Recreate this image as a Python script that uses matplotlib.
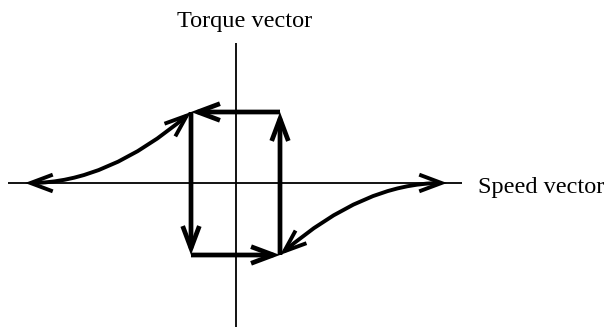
import matplotlib
matplotlib.use("Agg")
import matplotlib.pyplot as plt
from matplotlib.patches import FancyArrowPatch
from matplotlib.path import Path

plt.rcParams["font.family"] = ["Liberation Serif", "DejaVu Serif"]

# diagram coordinates, origin where the two axes cross
speed_axis_x = [-228, 226]
torque_axis_y = [-144, 140]

# rectangle corners of the torque/speed cycle
rect_x = [-45, 44]
rect_y = [-72, 71]

# curve tips on the speed axis
left_tip = (-211, 0)
right_tip = (211, 0)

axis_labels = ["Torque vector", "Speed vector"]

fig = plt.figure(figsize=(6.08, 3.27), dpi=100)
ax = fig.add_axes([0, 0, 1, 1])
ax.set_xlim(-236, 372)
ax.set_ylim(-144, 183)
ax.axis("off")

# axes
ax.plot(speed_axis_x, [0, 0], color="black", lw=1.3, solid_capstyle="butt")
ax.plot([0, 0], torque_axis_y, color="black", lw=1.3, solid_capstyle="butt")

x0, x1 = rect_x
y0, y1 = rect_y
arrow_kw = dict(arrowstyle="->,head_length=0.8,head_width=0.3",
                mutation_scale=20, color="black", shrinkA=0, shrinkB=0,
                joinstyle="miter", capstyle="butt")

# rectangle edges, counter-clockwise
edges = [((x1, y1), (x0, y1)),
         ((x0, y1), (x0, y0)),
         ((x0, y0), (x1, y0)),
         ((x1, y0), (x1, y1))]
for a, b in edges:
    ax.add_patch(FancyArrowPatch(a, b, lw=3.4, **arrow_kw))

# curved double-headed arrows (parabola, vertex at the axis tip)
curve_kw = dict(arrow_kw)
curve_kw["arrowstyle"] = "<->,head_length=0.8,head_width=0.3"
for corner, tip in [((x0, y1), left_tip), ((x1, y0), right_tip)]:
    ctrl = ((corner[0] + tip[0]) / 2, tip[1])
    path = Path([tip, ctrl, corner], [Path.MOVETO, Path.CURVE3, Path.CURVE3])
    ax.add_patch(FancyArrowPatch(path=path, lw=2.8, **curve_kw))

ax.text(9, 156, axis_labels[0], fontsize=17.5, ha="center", va="baseline")
ax.text(242, -10, axis_labels[1], fontsize=17.5, ha="left", va="baseline")

fig.savefig("out.png", dpi=100)
